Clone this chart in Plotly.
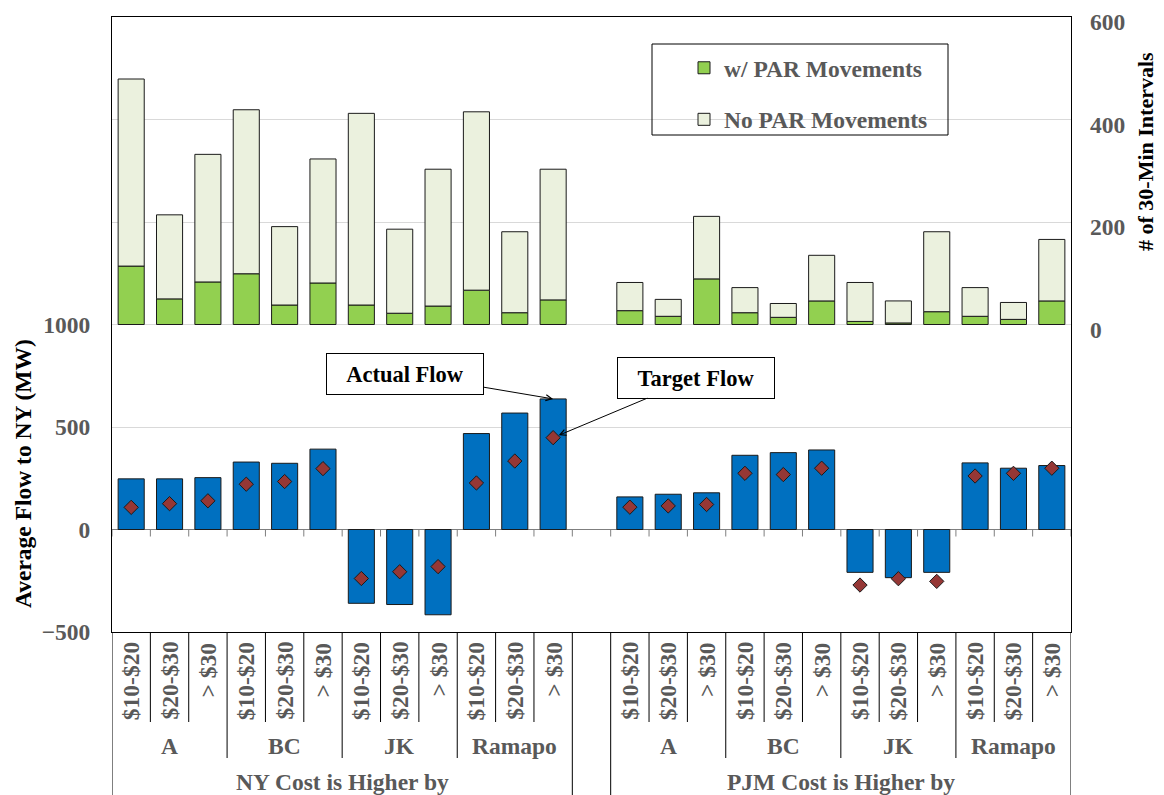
import plotly.graph_objects as go

# ---------------- data ----------------
groups = ["NY Cost is Higher by", "PJM Cost is Higher by"]
zones = ["A", "BC", "JK", "Ramapo"]
buckets = ["$10-$20", "$20-$30", "> $30"]

actual_ny = [247, 247, 253, 329, 323, 392, -360, -366, -416, 468, 568, 637]
target_ny = [108, 126, 140, 221, 234, 297, -239, -206, -181, 227, 334, 448]
actual_pjm = [159, 172, 179, 362, 375, 388, -209, -235, -209, 325, 299, 312]
target_pjm = [109, 115, 122, 274, 268, 299, -271, -240, -253, 261, 274, 299]

wpar_ny = [114, 50, 83, 99, 38, 81, 38, 22, 36, 67, 23, 48]
nopar_ny = [365, 164, 249, 320, 153, 242, 374, 164, 267, 348, 158, 255]
wpar_pjm = [27, 16, 89, 23, 14, 46, 6, 3, 25, 16, 10, 46]
nopar_pjm = [55, 33, 122, 49, 27, 89, 76, 43, 156, 56, 33, 120]

left_ticks = [-500, 0, 500, 1000]
right_ticks = [0, 200, 400, 600]

# ---------------- style ----------------
FONT = "Liberation Serif, Times New Roman, serif"
GRAY = "#595959"
BLUE = "#0070C0"
GREEN = "#92D050"
PALE = "#EBF1DE"
DIAMOND = "#953735"
OUTLINE = "#1a1a1a"
FS = 23.5

n_per_group = len(zones) * len(buckets)
slot_gap = 1
xs = []
for g in range(len(groups)):
    for k in range(n_per_group):
        xs.append(g * (n_per_group + slot_gap) + k)
n_slots = len(groups) * n_per_group + (len(groups) - 1) * slot_gap

actual = actual_ny + actual_pjm
target = target_ny + target_pjm
wpar = wpar_ny + wpar_pjm
nopar = nopar_ny + nopar_pjm

fig = go.Figure()

fig.add_trace(go.Bar(
    x=xs, y=actual, yaxis="y", marker=dict(color=BLUE, line=dict(color=OUTLINE, width=1)),
    showlegend=False, name="Actual Flow"))
fig.add_trace(go.Scatter(
    x=xs, y=target, yaxis="y", mode="markers",
    marker=dict(symbol="diamond", size=11, color=DIAMOND, line=dict(color=OUTLINE, width=1)),
    showlegend=False, name="Target Flow"))
fig.add_trace(go.Bar(
    x=xs, y=wpar, yaxis="y2", name="w/ PAR Movements", legendgroup="a",
    marker=dict(color=GREEN, line=dict(color=OUTLINE, width=1))))
fig.add_trace(go.Bar(
    x=xs, y=nopar, yaxis="y2", name="No PAR Movements", legendgroup="b",
    marker=dict(color=PALE, line=dict(color=OUTLINE, width=1))))

# geometry: page has an 8px body margin, so the figure is 8px smaller
OFF = 8
W, H = 1164 - OFF, 795 - OFF
ml = 112 - OFF
mt = 17 - OFF
mr = W - (1071 - OFF)
mb = H - (632 - OFF)
ph = H - mt - mb
pw = W - ml - mr


def py(px):  # page pixel y -> paper y
    return (H - mb - (px - OFF)) / ph


def pxx(px):  # page pixel x -> paper x
    return (px - OFF - ml) / pw


shapes = []
annotations = []

# tick marks under the zero line at every slot boundary
for i in range(n_slots + 1):
    shapes.append(dict(type="line", xref="x", yref="y", x0=i - 0.5, x1=i - 0.5,
                       ysizemode="pixel", yanchor=0, y0=0, y1=-7,
                       line=dict(color="#7f7f7f", width=1)))

# category box separators
y_bucket = py(722)
y_zone = py(758)
y_group = py(800)
for g in range(len(groups)):
    start = g * (n_per_group + slot_gap)
    for z in range(len(zones)):
        for b in range(len(buckets)):
            x = start + z * len(buckets) + b
            if b > 0:
                shapes.append(dict(type="line", xref="x", yref="paper", x0=x - 0.5, x1=x - 0.5,
                                   y0=0, y1=y_bucket, line=dict(color="black", width=1)))
            annotations.append(dict(x=x, y=py(640), xref="x", yref="paper", text=buckets[b],
                                    textangle=-90, showarrow=False, xanchor="center", yanchor="top",
                                    font=dict(family=FONT, size=FS, color=GRAY, weight="bold")))
        if z > 0:
            xb = start + z * len(buckets) - 0.5
            shapes.append(dict(type="line", xref="x", yref="paper", x0=xb, x1=xb,
                               y0=0, y1=y_zone, line=dict(color="black", width=1)))
        annotations.append(dict(x=start + z * len(buckets) + (len(buckets) - 1) / 2, y=py(746),
                                xref="x", yref="paper", text=zones[z], showarrow=False,
                                xanchor="center", yanchor="middle",
                                font=dict(family=FONT, size=FS, color=GRAY, weight="bold")))
    for xb in (start - 0.5, start + n_per_group - 0.5):
        shapes.append(dict(type="line", xref="x", yref="paper", x0=xb, x1=xb,
                           y0=0, y1=y_group, line=dict(color="black", width=1)))
    annotations.append(dict(x=start + (n_per_group - 1) / 2, y=py(782), xref="x", yref="paper",
                            text=groups[g], showarrow=False, xanchor="center", yanchor="middle",
                            font=dict(family=FONT, size=FS, color=GRAY, weight="bold")))

# legend frame
shapes.append(dict(type="rect", xref="paper", yref="paper", x0=pxx(652), x1=pxx(948),
                   y0=py(135), y1=py(44), line=dict(color="black", width=1),
                   fillcolor="rgba(0,0,0,0)", layer="above"))

# axis titles
annotations.append(dict(x=pxx(23), y=py(474), xref="paper", yref="paper",
                        xanchor="center", yanchor="middle",
                        text="Average Flow to NY (MW)", textangle=-90, showarrow=False,
                        font=dict(family=FONT, size=FS, color="black", weight="bold")))
annotations.append(dict(x=pxx(1146), y=py(152), xref="paper", yref="paper",
                        xanchor="center", yanchor="middle",
                        text="# of 30-Min Intervals", textangle=-90, showarrow=False,
                        font=dict(family=FONT, size=22, color="black", weight="bold")))

# callouts (last NY bar)
idx = n_per_group - 1
annotations.append(dict(x=xs[idx], y=actual[idx], xref="x", yref="y", text="Actual Flow",
                        showarrow=True, arrowhead=5, arrowsize=1.2, arrowwidth=1, arrowcolor="black",
                        ax=-148, ay=-25, width=154, height=38, bordercolor="black", borderwidth=1,
                        bgcolor="white",
                        font=dict(family=FONT, size=22.5, color="black", weight="bold")))
annotations.append(dict(x=xs[idx], y=target[idx], xref="x", yref="y", text="Target Flow",
                        showarrow=True, arrowhead=5, arrowsize=1.2, arrowwidth=1, arrowcolor="black",
                        ax=143, ay=-60, standoff=6, width=154, height=38, bordercolor="black",
                        borderwidth=1, bgcolor="white",
                        font=dict(family=FONT, size=22.5, color="black", weight="bold")))

fig.update_layout(
    width=W, height=H,
    margin=dict(l=ml, r=mr, t=mt, b=mb, autoexpand=False),
    paper_bgcolor="white", plot_bgcolor="white",
    barmode="relative", bargap=0.32,
    font=dict(family=FONT, color=GRAY),
    showlegend=True,
    legend=dict(x=pxx(684), y=py(46), xanchor="left", yanchor="top",
                bgcolor="rgba(0,0,0,0)", borderwidth=0, traceorder="grouped",
                tracegroupgap=18,
                font=dict(family=FONT, size=FS, color=GRAY, weight="bold")),
    xaxis=dict(range=[-0.5, n_slots - 0.5], showticklabels=False, ticks="", showgrid=False,
               zeroline=False, showline=True, linecolor="black", linewidth=1, mirror=True,
               automargin=False),
    yaxis=dict(range=[-500, 2500], tickvals=left_ticks, ticks="", showgrid=True,
               gridcolor="#d9d9d9", zeroline=True, zerolinecolor="#7f7f7f", zerolinewidth=1,
               showline=True, linecolor="black", linewidth=1, mirror=True,
               ticklabelstandoff=16, automargin=False, ticklabeloverflow="allow",
               tickfont=dict(family=FONT, size=FS, color=GRAY, weight="bold")),
    yaxis2=dict(range=[-600, 600], tickvals=right_ticks, overlaying="y", side="right",
                ticks="", showgrid=True, gridcolor="#d9d9d9", zeroline=False, showline=False,
                ticklabelstandoff=18, ticklabelshift=5, automargin=False,
                ticklabeloverflow="allow",
                tickfont=dict(family=FONT, size=FS, color=GRAY, weight="bold")),
    shapes=shapes,
    annotations=annotations,
)

fig.write_html("out.html")
